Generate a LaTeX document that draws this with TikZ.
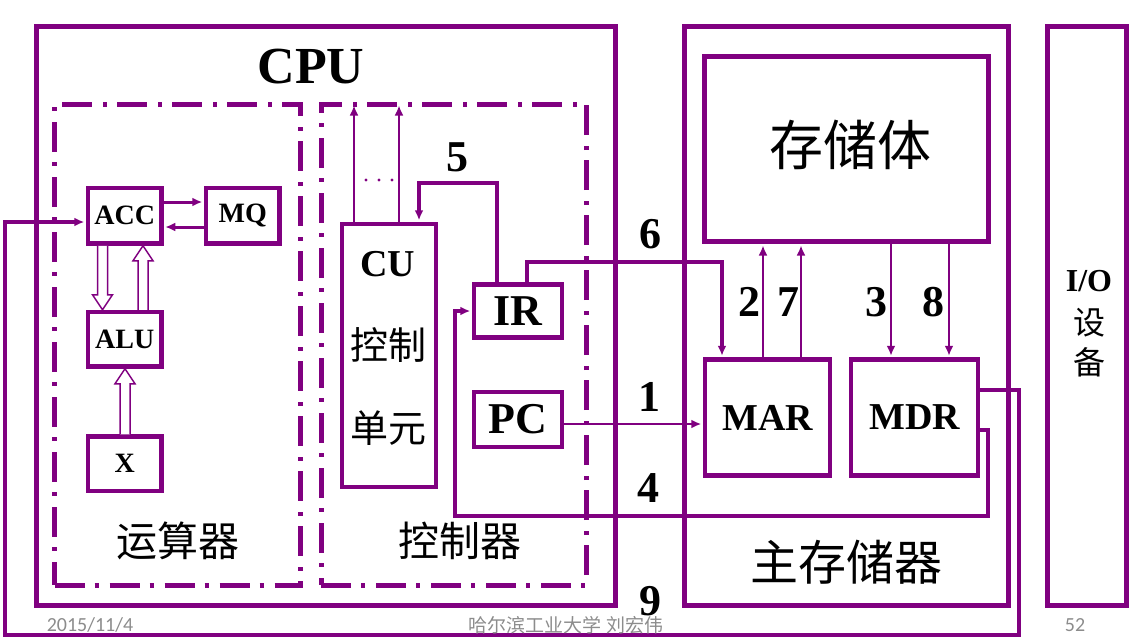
\documentclass[tikz,border=0pt]{standalone}
\usepackage{fontspec}
\setmainfont{Liberation Serif}
\newfontfamily\cjk{Noto Sans CJK SC}
\newfontfamily\footfont{Carlito}
\usetikzlibrary{arrows.meta,calc}
\definecolor{pp}{RGB}{128,0,128}
\definecolor{footgray}{RGB}{140,140,140}
\newcommand\holarrow[3]{%
  \draw[hol] let \p1=(#2), \p2=(#3), \n1={ifthenelse(\y2>\y1,-15,15)} in
  ({#1pt-5pt},\y1) -- ({#1pt-5pt},{\y2+\n1*1pt}) -- ({#1pt-10pt},{\y2+\n1*1pt}) -- (#1pt,\y2)
  -- ({#1pt+10pt},{\y2+\n1*1pt}) -- ({#1pt+5pt},{\y2+\n1*1pt}) -- ({#1pt+5pt},\y1);}
\begin{document}
\begin{tikzpicture}[x=1pt,y=-1pt,
  box/.style={draw=pp,line width=5pt,inner sep=0pt},
  sbox/.style={draw=pp,line width=4.5pt,inner sep=0pt},
  dd/.style={draw=pp,line width=5pt,inner sep=0pt,dash pattern=on 30pt off 10pt on 4pt off 11pt},
  lbl/.style={font=\bfseries\fontsize{28}{28}\selectfont},
  big/.style={font=\bfseries\fontsize{44}{44}\selectfont},
  mid/.style={font=\bfseries\fontsize{38}{38}\selectfont},
  num/.style={font=\bfseries\fontsize{44}{44}\selectfont,inner sep=0pt},
  zh/.style={font=\cjk\fontsize{#1}{#1}\selectfont},
  conn/.style={draw=pp,line width=#1},
  tip/.style={-{Latex[length=10pt,width=9pt]},shorten >=1.5pt},
  hol/.style={draw=pp,line width=1.5pt,fill=white,line join=miter},
  foot/.style={text=footgray,inner sep=0pt}]
\useasboundingbox (0,0) rectangle (1146,643);

% main frames
\node[box, minimum width=579pt, minimum height=579pt] (cpu) at (325.5,315.5) {};
\node[font=\bfseries\fontsize{52}{52}\selectfont] (cputxt) at (311,67) {CPU};
\node[box, minimum width=324pt, minimum height=579.5pt] (mem) at (846.5,315.75) {};
\node[box, minimum width=78.5pt, minimum height=579.5pt] (io) at (1086.75,315.75) {};
\node[box, minimum width=283.5pt, minimum height=185.5pt] (store) at (846.25,148.75) {};
\node[zh=54] (storetxt) at (850,145) {存储体};
\node[zh=48] (memtxt) at (846,562) {主存储器};
\node[font=\bfseries\fontsize{32}{32}\selectfont] (iotxt) at (1089,281) {I/O};
\node[zh=32] (iotxt2) at (1089,323) {设};
\node[zh=32] (iotxt3) at (1089,362) {备};

% dash-dot groups
\node[dd, minimum width=245.5pt, minimum height=481pt] (alugrp) at (177.25,344.5) {};
\node[dd, minimum width=265pt, minimum height=481pt] (ctlgrp) at (453.5,344.5) {};
\node[zh=41] (alugrptxt) at (178,541) {运算器};
\node[zh=41] (ctlgrptxt) at (460,541) {控制器};

% arithmetic unit
\node[sbox, lbl, minimum width=73.5pt, minimum height=55.5pt] (acc) at (124.75,215.75) {ACC};
\node[sbox, lbl, minimum width=73.5pt, minimum height=55.5pt] (mq) at (242.75,215.75) {MQ};
\node[sbox, lbl, minimum width=73.5pt, minimum height=54.5pt] (alu) at (124.75,339.25) {ALU};
\node[sbox, lbl, minimum width=73.5pt, minimum height=54.5pt] (xreg) at (124.75,463.75) {X};

% control unit
\node[sbox, minimum width=94pt, minimum height=263pt] (cu) at (389,355.5) {};
\node[mid] (cutxt) at (388,264) {CU};
\node[zh=38] (cutxt2) at (388,345) {控制};
\node[zh=38] (cutxt3) at (388,428) {单元};
\node[sbox, big, minimum width=88pt, minimum height=53pt] (ir) at (518,311) {IR};
\node[sbox, big, minimum width=88pt, minimum height=55pt] (pc) at (518,419.5) {PC};

% memory registers
\node[sbox, mid, minimum width=125pt, minimum height=116pt] (mar) at (767.5,417.5) {MAR};
\node[sbox, mid, minimum width=127pt, minimum height=116pt] (mdr) at (914.5,417.5) {MDR};

% hollow arrows
\holarrow{102.5}{acc.south}{alu.north}
\holarrow{143}{alu.north}{acc.south}
\holarrow{125}{xreg.north}{alu.south}

% coordinates
\coordinate (m1) at (185,202);
\coordinate (m2) at (185,227);
\coordinate (u1) at (354,104);
\coordinate (u2) at (399,104);
\coordinate (p5a) at (497,183);
\coordinate (p5b) at (419,183);
\coordinate (p6a) at (527,262);
\coordinate (p6b) at (722,262);
\coordinate (a2) at (763,300);
\coordinate (a7) at (801,300);
\coordinate (a3) at (891,300);
\coordinate (a8) at (949,300);
\coordinate (a1) at (600,424);
\coordinate (p4a) at (988,429.5);
\coordinate (p4b) at (988,516);
\coordinate (p4c) at (455,516);
\coordinate (p4d) at (455,311);
\coordinate (p9a) at (1019,390);
\coordinate (p9b) at (1019,635);
\coordinate (p9c) at (5,635);
\coordinate (p9d) at (5,222);

% connectors
\draw[conn=3pt, tip] (acc.east |- m1) -- (mq.west |- m1);
\draw[conn=3pt, tip] (mq.west |- m2) -- (acc.east |- m2);
\draw[conn=2.5pt, tip] (cu.north -| u1) -- (u1);
\draw[conn=2.5pt, tip] (cu.north -| u2) -- (u2);
\fill[pp] (366,180) circle (1.6) (379,180) circle (1.6) (392,180) circle (1.6);
\draw[conn=4pt, tip] (ir.north -| p5a) -- (p5a) -- (p5b) -- (cu.north -| p5b);
\draw[conn=4pt, tip] (ir.north -| p6a) -- (p6a) -- (p6b) -- (mar.north -| p6b);
\draw[conn=2.5pt, tip] (mar.north -| a2) -- (store.south -| a2);
\draw[conn=2.5pt, tip] (mar.north -| a7) -- (store.south -| a7);
\draw[conn=2.5pt, tip] (store.south -| a3) -- (mdr.north -| a3);
\draw[conn=2.5pt, tip] (store.south -| a8) -- (mdr.north -| a8);
\draw[conn=2.5pt, tip] (pc.east |- a1) -- (mar.west |- a1);
\draw[conn=4pt, tip] (mdr.east |- p4a) -- (p4a) -- (p4b) -- (p4c) -- (p4d) -- (ir.west |- p4d);
\draw[conn=4pt, tip] (mdr.east |- p9a) -- (p9a) -- (p9b) -- (p9c) -- (p9d) -- (acc.west |- p9d);

% step numbers
\node[num] (n5) at (457,157) {5};
\node[num] (n6) at (650,234) {6};
\node[num] (n2) at (749,302) {2};
\node[num] (n7) at (788,302) {7};
\node[num] (n3) at (876,302) {3};
\node[num] (n8) at (933,302) {8};
\node[num] (n1) at (649,397) {1};
\node[num] (n4) at (648,488) {4};
\node[num] (n9) at (650,601) {9};

% footer
\node[foot, font=\footfont\fontsize{20}{20}\selectfont] (date) at (90,625) {2015/11/4};
\node[foot, font=\cjk\fontsize{19}{19}\selectfont] (author) at (566,625) {哈尔滨工业大学\ 刘宏伟};
\node[foot, font=\footfont\fontsize{20}{20}\selectfont] (page) at (1075,625) {52};
\end{tikzpicture}
\end{document}
